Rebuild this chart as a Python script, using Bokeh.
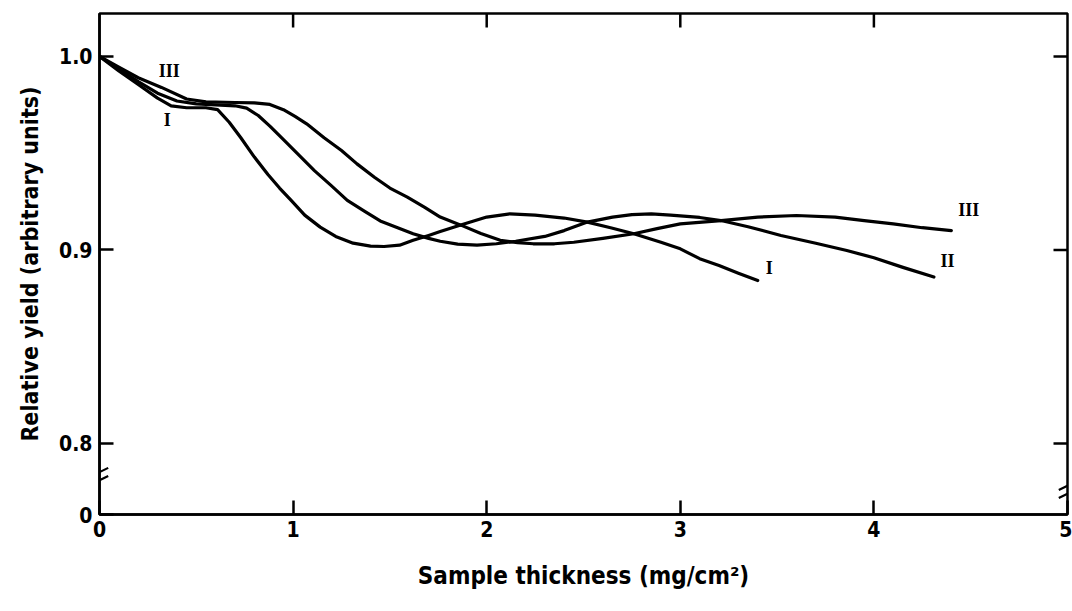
from bokeh.plotting import figure
from bokeh.models import Range1d, FixedTicker
from bokeh.core.properties import value
from bokeh.embed import file_html
from bokeh.resources import INLINE

# ---- data ----
x_I = [0.00, 0.10, 0.20, 0.30, 0.37, 0.45, 0.55, 0.61, 0.67, 0.73, 0.80, 0.87, 0.93, 0.99,
       1.06, 1.14, 1.22, 1.31, 1.40, 1.47, 1.55, 1.62, 1.70, 1.76, 1.87, 2.00, 2.12, 2.25,
       2.40, 2.52, 2.64, 2.76, 2.90, 3.00, 3.10, 3.20, 3.30, 3.40]
y_I = [1.000, 0.9925, 0.9855, 0.9785, 0.9745, 0.9735, 0.9735, 0.9725, 0.966, 0.958, 0.948,
       0.939, 0.932, 0.9256, 0.918, 0.9118, 0.907, 0.9035, 0.902, 0.9018, 0.9025, 0.905,
       0.9075, 0.9095, 0.913, 0.917, 0.9187, 0.918, 0.9165, 0.9144, 0.9115, 0.9084, 0.904,
       0.9006, 0.8955, 0.892, 0.888, 0.8842]

x_II = [0.00, 0.10, 0.20, 0.30, 0.40, 0.50, 0.60, 0.70, 0.76, 0.82, 0.88, 0.94, 1.02, 1.11,
        1.20, 1.28, 1.37, 1.45, 1.54, 1.62, 1.70, 1.76, 1.85, 1.95, 2.05, 2.15, 2.30, 2.40,
        2.52, 2.65, 2.75, 2.85, 2.95, 3.10, 3.21, 3.35, 3.52, 3.70, 3.86, 4.00, 4.15, 4.31]
y_II = [1.000, 0.9935, 0.987, 0.981, 0.977, 0.9755, 0.975, 0.9745, 0.9733, 0.9695, 0.964,
        0.958, 0.950, 0.941, 0.933, 0.9256, 0.920, 0.915, 0.9115, 0.9084, 0.906, 0.9045,
        0.903, 0.9025, 0.9032, 0.9045, 0.907, 0.910, 0.9144, 0.917, 0.9183, 0.9187, 0.918,
        0.9168, 0.9152, 0.912, 0.9075, 0.9035, 0.8997, 0.896, 0.891, 0.886]

x_III = [0.00, 0.10, 0.20, 0.32, 0.45, 0.55, 0.70, 0.80, 0.88, 0.95, 1.01, 1.07, 1.16, 1.25,
         1.33, 1.42, 1.50, 1.59, 1.68, 1.76, 1.87, 1.97, 2.07, 2.16, 2.24, 2.35, 2.45, 2.60,
         2.76, 2.88, 3.00, 3.21, 3.40, 3.60, 3.80, 3.95, 4.10, 4.25, 4.40]
y_III = [1.000, 0.9945, 0.989, 0.984, 0.978, 0.9765, 0.9762, 0.976, 0.9752, 0.9725, 0.969,
         0.9652, 0.958, 0.9514, 0.9445, 0.9376, 0.932, 0.9273, 0.922, 0.917, 0.9127, 0.9085,
         0.905, 0.9038, 0.9032, 0.9032, 0.904, 0.906, 0.9084, 0.911, 0.9135, 0.9152, 0.917,
         0.9178, 0.917, 0.9152, 0.9135, 0.9115, 0.910]

label_text = ["III", "I", "I", "II", "III"]
label_x = [0.36, 0.35, 3.46, 4.38, 4.49]
label_y = [0.9925, 0.9670, 0.8905, 0.8945, 0.9205]

x_ticks = [0, 1, 2, 3, 4, 5]
y_zero = 0.7633          # position of the broken "0" level
y_top = 1.0222
y_ticks = [y_zero, 0.8, 0.9, 1.0]
y_tick_labels = ["0", "0.8", "0.9", "1.0"]
top_ticks = [1, 2, 3, 4]
right_ticks = [0.8, 0.9, 1.0]
break_left_y = 0.781
break_right_y = 0.774

FONT = "DejaVu Sans Condensed"

p = figure(width=1072, height=611, output_backend="svg", toolbar_location=None,
           x_range=Range1d(0, 5), y_range=Range1d(y_zero, y_top),
           min_border_left=99, min_border_right=5, min_border_top=13, min_border_bottom=97,
           x_axis_label="Sample thickness (mg/cm\u00b2)",
           y_axis_label="Relative yield (arbitrary units)")
p.background_fill_color = "white"
p.border_fill_color = "white"
p.outline_line_color = "black"
p.outline_line_width = 2.5
p.grid.visible = False

xa = p.xaxis[0]
xa.ticker = FixedTicker(ticks=x_ticks)
ya = p.yaxis[0]
ya.ticker = FixedTicker(ticks=y_ticks)
ya.major_label_overrides = {t: s for t, s in zip(y_ticks, y_tick_labels)}

for ax in (xa, ya):
    ax.major_tick_in = 14
    ax.major_tick_out = 0
    ax.minor_tick_line_color = None
    ax.axis_line_width = 2.5
    ax.major_tick_line_width = 2.5
    ax.major_label_text_font = FONT
    ax.major_label_text_font_style = "bold"
    ax.major_label_text_font_size = "21px"
    ax.major_label_text_color = "black"
    ax.axis_label_text_font = FONT
    ax.axis_label_text_font_style = "bold"
    ax.axis_label_text_color = "black"
xa.major_label_standoff = 6
xa.axis_label_standoff = 22
xa.axis_label_text_font_size = "24px"
ya.major_label_standoff = 7
ya.axis_label_standoff = 13
ya.axis_label_text_font_size = "23px"

# inward ticks on the top and right sides (frame lines come from the outline)
px_x = 5.0 / 968.0
px_y = (y_top - y_zero) / 501.0
tick_len = 14
p.segment(x0=top_ticks, x1=top_ticks,
          y0=[y_top] * len(top_ticks), y1=[y_top - tick_len * px_y] * len(top_ticks),
          line_color="black", line_width=2.5)
p.segment(x0=[5.0] * len(right_ticks), x1=[5.0 - tick_len * px_x] * len(right_ticks),
          y0=right_ticks, y1=right_ticks, line_color="black", line_width=2.5)

# curves
for xs, ys in ((x_I, y_I), (x_II, y_II), (x_III, y_III)):
    p.line(xs, ys, line_color="black", line_width=3.2, line_join="round", line_cap="round")

p.text(label_x, label_y, text=label_text, text_font=value("Liberation Serif"),
       text_font_style="bold", text_font_size="18px", text_color="black",
       text_align="center", text_baseline="middle")

# axis break marks
dx, dy, gap = 0.045, 0.0022, 0.0042
for bx, by in ((0.0, break_left_y), (5.0, break_right_y)):
    p.segment(x0=[bx - dx, bx - dx], y0=[by - dy, by - dy + gap],
              x1=[bx + dx, bx + dx], y1=[by + dy, by + dy + gap],
              line_color="black", line_width=2.2)

open("out.html", "w").write(file_html(p, INLINE))
